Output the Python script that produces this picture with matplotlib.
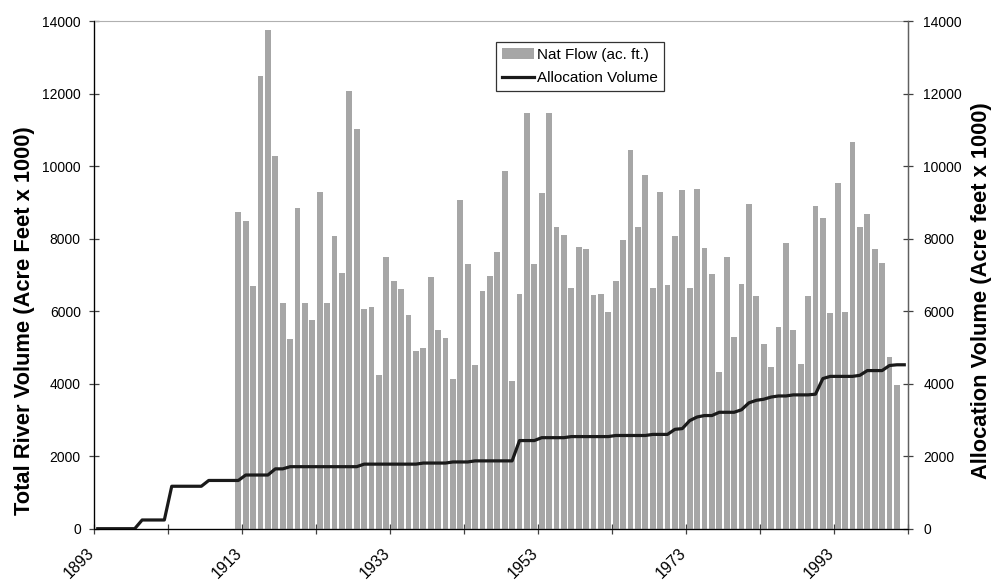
import matplotlib
matplotlib.use("Agg")
import matplotlib.pyplot as plt
import matplotlib.transforms as mtransforms
import numpy as np

plt.rcParams['font.family'] = ['Liberation Sans', 'DejaVu Sans']

# years on the category axis
years = list(range(1893, 2003))

# natural flow, 1912-2001 (acre feet x 1000)
flow_years = list(range(1912, 2002))
nat_flow = [8740, 8490, 6700, 12470, 13740, 10290, 6230, 5240, 8850, 6230,
            5760, 9290, 6230, 8080, 7060, 12060, 11030, 6070, 6100, 4240,
            7480, 6840, 6620, 5900, 4910, 4970, 6950, 5490, 5270, 4130,
            9070, 7300, 4520, 6560, 6980, 7640, 9870, 4080, 6480, 11450,
            7300, 9250, 11450, 8330, 8110, 6650, 7780, 7720, 6450, 6480,
            5980, 6840, 7970, 10450, 8330, 9740, 6650, 9290, 6720, 8080,
            9350, 6650, 9380, 7750, 7030, 4330, 7480, 5290, 6750, 8940,
            6430, 5100, 4460, 5560, 7890, 5490, 4550, 6430, 8910, 8580,
            5950, 9520, 5980, 10650, 8330, 8670, 7720, 7330, 4740, 3970]

# cumulative allocation volume, 1893-2002
allocation = [0, 0, 0, 0, 0, 0, 240, 240, 240, 240,
              1170, 1170, 1170, 1170, 1170, 1330, 1330, 1330, 1330, 1330,
              1480, 1480, 1480, 1480, 1650, 1650, 1710, 1710, 1710, 1710,
              1710, 1710, 1710, 1710, 1710, 1710, 1780, 1780, 1780, 1780,
              1780, 1780, 1780, 1780, 1810, 1810, 1810, 1810, 1840, 1840,
              1840, 1870, 1870, 1870, 1870, 1870, 1870, 2430, 2430, 2430,
              2510, 2510, 2510, 2510, 2540, 2540, 2540, 2540, 2540, 2540,
              2570, 2570, 2570, 2570, 2570, 2600, 2600, 2600, 2740, 2760,
              2980, 3080, 3120, 3120, 3210, 3210, 3210, 3280, 3470, 3540,
              3570, 3630, 3660, 3660, 3690, 3690, 3690, 3710, 4140, 4200,
              4200, 4200, 4200, 4230, 4360, 4360, 4360, 4500, 4520, 4520]

xtick_labels = ['1893', '', '1913', '', '1933', '', '1953', '', '1973', '', '1993', '']

fig = plt.figure(figsize=(9.92, 5.82), dpi=100)
ax = fig.add_axes([0.0948, 0.0916, 0.8205, 0.8723])

bars = ax.bar(flow_years, nat_flow, width=0.77, color='#a6a6a6', label='Nat Flow (ac. ft.)', zorder=2)
line, = ax.plot(years, allocation, color='#1a1a1a', lw=2.3, label='Allocation Volume', zorder=3)

ax.set_xlim(1892.5, 2002.5)
ax.set_ylim(0, 14000)
ax.set_yticks(np.arange(0, 14001, 2000))
ax.set_xticks(np.arange(1892.5, 2003, 10))
ax.set_xticklabels(xtick_labels, rotation=45, ha='right', va='top', rotation_mode='anchor')
ax.tick_params(axis='x', direction='inout', length=7, width=0.9, color='#404040', labelsize=11.5, pad=8.5)
ax.tick_params(axis='y', direction='inout', length=7, width=0.9, color='#404040', labelsize=10, pad=6)

# shift the slanted year labels a little to the left of their ticks
shift = mtransforms.ScaledTranslation(-8 / 100, 0, fig.dpi_scale_trans)
for lbl in ax.get_xticklabels():
    lbl.set_transform(lbl.get_transform() + shift)

ax.spines['top'].set_color('#b0b0b0')
for s in ['left', 'right', 'bottom']:
    ax.spines[s].set_color('#606060')
    ax.spines[s].set_linewidth(1.0)

ax.set_ylabel('Total River Volume (Acre Feet x 1000)', fontsize=15.75, fontweight='bold')
ax.yaxis.set_label_coords(-0.073, 0.41)

ax2 = ax.twinx()
ax2.set_ylim(0, 14000)
ax2.set_yticks(np.arange(0, 14001, 2000))
ax2.tick_params(axis='y', direction='inout', length=7, width=0.9, color='#404040', labelsize=10, pad=7.5)
ax2.spines['top'].set_visible(False)
ax2.spines['right'].set_color('#606060')
ax2.set_ylabel('Allocation Volume (Acre feet x 1000)', fontsize=15.75, fontweight='bold')
ax2.yaxis.set_label_coords(1.077, 0.468)

leg = ax.legend(handles=[bars, line], loc='upper left', bbox_to_anchor=(0.494, 0.959),
                fontsize=11, frameon=True, fancybox=False, borderpad=0.4,
                handlelength=2.1, handletextpad=0.2, labelspacing=0.6, borderaxespad=0)
leg.get_frame().set_edgecolor('black')
leg.get_frame().set_linewidth(0.9)

fig.savefig('out.png', dpi=100)
